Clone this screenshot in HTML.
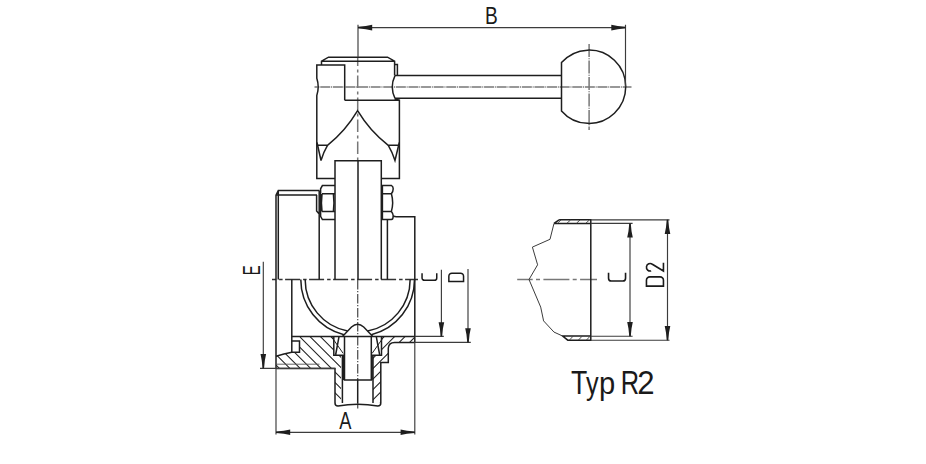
<!DOCTYPE html>
<html><head><meta charset="utf-8"><style>
html,body{margin:0;padding:0;background:#fff;}
svg{display:block;}
text{font-family:"Liberation Sans",sans-serif;}
</style></head><body>
<svg width="926" height="464" viewBox="0 0 926 464">
<defs><clipPath id="cL"><path d="M299.5,336.4 L333.8,336.4 L333.8,355 L341,355 L341,403 L335,403 L335,368.6 L276,368.6 L276,356.2 Q284,353.8 291.8,352.3 L299.5,352.3 Z"/></clipPath><clipPath id="cR"><path d="M381.6,336.4 L414.8,336.4 L414.8,342.4 L394.5,342.4 Q388.8,342.4 388.3,348 L388.3,362.6 L380.8,362.6 L380.8,403 L373,403 L373,355 L381.6,355 Z"/></clipPath></defs>
<rect width="926" height="464" fill="#fff"/>
<g fill="none"><path d="M314.5,87 L631.5,87" stroke="#777" stroke-width="1.5" stroke-dasharray="10 0.8 1 0.8" stroke-dashoffset="6.85"/><path d="M357.7,57.2 L357.7,160.7" stroke="#777" stroke-width="1.5" stroke-dasharray="12.3 3.5 3 3.2" stroke-dashoffset="3.6"/><path d="M589.1,44 L589.1,130" stroke="#777" stroke-width="1.5" stroke-dasharray="13 1.3 1 1.2" stroke-dashoffset="0"/><path d="M272,279.5 L418,279.5" stroke="#333" stroke-width="1.3" stroke-dasharray="15 3 3.5 2.5" stroke-dashoffset="10.9"/><path d="M357.7,279.5 L357.7,380" stroke="#555" stroke-width="1.3" stroke-dasharray="9.4 1.6 1.3 1.7" stroke-dashoffset="13.5"/><path d="M357.7,403.5 L357.7,408.6" stroke="#555" stroke-width="1.3" stroke-dasharray="10 1" stroke-dashoffset="0"/><path d="M517.2,279.6 L597,279.6" stroke="#777" stroke-width="1.5" stroke-dasharray="26 3.3 4 3.4" stroke-dashoffset="10.5"/></g>
<g fill="none" stroke="#222" stroke-width="1.05"><path clip-path="url(#cL)" d="M270,255.00 L345,330.00 M270,265.40 L345,340.40 M270,275.80 L345,350.80 M270,286.20 L345,361.20 M270,296.60 L345,371.60 M270,307.00 L345,382.00 M270,317.40 L345,392.40 M270,327.80 L345,402.80 M270,338.20 L345,413.20 M270,348.60 L345,423.60 M270,359.00 L345,434.00 M270,369.40 L345,444.40 M270,379.80 L345,454.80 M270,390.20 L345,465.20 M270,400.60 L345,475.60"/><path clip-path="url(#cR)" d="M370,330.00 L420,280.00 M370,340.40 L420,290.40 M370,350.80 L420,300.80 M370,361.20 L420,311.20 M370,371.60 L420,321.60 M370,382.00 L420,332.00 M370,392.40 L420,342.40 M370,402.80 L420,352.80 M370,413.20 L420,363.20 M370,423.60 L420,373.60 M370,434.00 L420,384.00 M370,444.40 L420,394.40 M370,454.80 L420,404.80"/></g>
<g fill="none" stroke="#1e1e1e" stroke-width="1.5" stroke-linejoin="miter"><path d="M321.5,65 L321.5,61.2 L328.5,57.2 L387.5,57.2 L394.6,61.2 L394.6,75.5 M321.5,61.2 L394.6,61.2"/><path d="M394.6,64.5 L397.4,64.5 L397.4,75.5"/><path d="M344.7,100.2 L344.7,65 L316.8,65 L316.8,78.3 Q319.6,86.9 316.8,95.5 L316.8,178.6 L335,178.6"/><path d="M381.3,178.6 L399.4,178.6 L399.4,100.2 L344.7,100.2"/><path d="M394.6,99 L399.4,100.2"/><path d="M395,75.6 L561.5,75.6 M395,98.3 L561.5,98.3 M395,75.6 Q389.5,87 395,98.3"/><path d="M561.5,62.6 A36.65,36.65 0 1,1 561.5,110.9 Z"/><path d="M316.8,145.3 L327.5,145.3 Q345.45,131.05 357.6,110.6 Q369.85,131.05 388.3,145.3 L399.3,145.3"/><path d="M317,142.5 L321,160.5 Q323.5,152 327.5,145.3 M399.3,142.5 L395,160.5 Q392.3,152 388.3,145.3"/><path d="M335,279.5 L335,160.7 L381.3,160.7 L381.3,279.5 M358,160.7 L358,279.5"/><path d="M276,368.6 L276,195.1 L278.3,190.4 L319.4,190.4 M276,195.1 L317,195.1 M278.3,190.4 L278.3,279.5"/><path d="M316.6,195.1 L316.6,211 L319.2,214 M319.2,190.4 L319.2,279.5"/><path d="M335,185.6 L322.4,185.6 L320.6,188.8 L320.6,216.4 L322.4,219.6 L335,219.6 M322,193.8 L335,193.8 M322,211.4 L335,211.4 M322,193.8 Q320.9,202.6 322,211.4 M333.4,193.8 Q334.5,202.6 333.4,211.4"/><path d="M381.3,185.6 L391.6,185.6 Q393.2,186.3 393.2,188.8 Q393.2,191.5 391.4,193.8 Q393.9,202.6 391.4,211.4 Q393.2,213.5 393.2,215.8 Q393.2,219.6 391.4,219.6 L381.3,219.6 M391.4,193.8 L381.3,193.8 M391.4,211.4 L381.3,211.4 M382.4,185.8 L382.4,219.4"/><path d="M393.2,215.8 Q394.5,216.7 396.5,216.7 L414.8,216.7 L414.8,342.4 M387.4,219.6 L387.4,279.5"/><path d="M291.8,279.5 L291.8,352.3"/><path d="M300.79999999999995,279.5 A56.85,56.85 0 0,0 344.0,334.69 M305.15,279.5 A52.5,52.5 0 0,0 347.6,331.03"/><path d="M414.5,279.5 A56.85,56.85 0 0,1 371.30,334.69 M410.15,279.5 A52.5,52.5 0 0,1 367.70,331.03"/><path d="M342.5,336.4 L351.5,327 Q357.6,321.5 363.7,327 L372.8,336.4"/><path d="M291.8,336.4 L414.8,336.4"/><path d="M291.8,341.1 L299.5,341.1 L299.5,352.3 L291.8,352.3 Q284,353.8 276,356.2"/><path d="M276,368.6 L335,368.6 L335,403 Q335,406 338,406 Q357.7,402.5 377.8,406 Q380.8,406 380.8,403 L380.8,362.6 L388.3,362.6 L388.3,348 Q388.8,342.4 394.5,342.4 L414.8,342.4"/><path d="M342.4,355 L342.4,403 M373,355 L373,403 M344.5,336.4 L344.5,380 L371.3,380 L371.3,336.4"/><path d="M357.7,380 L357.7,403.5"/><path d="M333.8,336.4 L333.8,355.2 L344.5,355.2 M339,336.6 L335.7,354.5"/><path d="M381.5,336.4 L381.5,355.2 L371.3,355.2 M376.3,336.6 L379.6,354.5"/><path d="M343.4,355.5 L343.4,380 M372.2,355.5 L372.2,380" stroke-width="1.2"/><path d="M559.1,219.8 L590.8,219.8 L590.8,340.2 L567.8,340.2 L562.6,336 L590.8,336 M554,223.4 L590.8,223.4 M554,223.4 L559.1,219.8"/></g>
<g fill="none" stroke="#3c3c3c" stroke-width="1.15"><path d="M358,27.6 L625.5,27.6 M358,24.8 L358,57.2 M625.5,24.7 L625.5,86.8"/><path d="M358.00,26.85 L365.81,26.06 L372.20,24.80 L372.20,30.40 L365.81,29.14 L358.00,28.35 Z" fill="#1e1e1e" stroke="none"/><path d="M625.50,28.35 L617.69,29.14 L611.30,30.40 L611.30,24.80 L617.69,26.06 L625.50,26.85 Z" fill="#1e1e1e" stroke="none"/><path d="M331.4,336.6 L343.2,353.4 M383.9,336.6 L372.1,353.4" stroke-width="1" stroke="#222"/><path d="M276,364.2 L319.5,364.2" stroke="#555" stroke-width="0.9"/><path d="M263.3,261.7 L263.3,368.3 M260,368.4 L335,368.4"/><path d="M262.55,368.30 L261.76,360.49 L260.50,354.10 L266.10,354.10 L264.84,360.49 L264.05,368.30 Z" fill="#1e1e1e" stroke="none"/><path d="M441.4,269.8 L441.4,336.4 M414.8,336.4 L443.8,336.4"/><path d="M440.65,336.40 L439.86,328.59 L438.60,322.20 L444.20,322.20 L442.94,328.59 L442.15,336.40 Z" fill="#1e1e1e" stroke="none"/><path d="M468,269 L468,342.4 M414.8,342.4 L470.8,342.4"/><path d="M467.25,342.40 L466.46,334.59 L465.20,328.20 L470.80,328.20 L469.54,334.59 L468.75,342.40 Z" fill="#1e1e1e" stroke="none"/><path d="M276,368.6 L276,434.5 M414.8,342.4 L414.8,434.5 M276,432.3 L414.8,432.3"/><path d="M276.00,431.55 L283.81,430.76 L290.20,429.50 L290.20,435.10 L283.81,433.84 L276.00,433.05 Z" fill="#1e1e1e" stroke="none"/><path d="M414.80,433.05 L406.99,433.84 L400.60,435.10 L400.60,429.50 L406.99,430.76 L414.80,431.55 Z" fill="#1e1e1e" stroke="none"/><path d="M554,223.4 L550,239.3 L532.4,247.1 L537.6,264.8 L529,279.5 L540.7,307.1 L543.6,320.9 L554,332.1 L562.6,336" stroke-width="1"/><path d="M590.8,219.8 L669.5,219.8 M590.8,223.4 L632.6,223.4 M590.8,336.2 L632.6,336.2 M590.8,340.2 L669.5,340.2"/><path d="M630,223.4 L630,336.2 M667.5,219.8 L667.5,340.2"/><path d="M630.75,223.40 L631.54,231.21 L632.80,237.60 L627.20,237.60 L628.46,231.21 L629.25,223.40 Z" fill="#1e1e1e" stroke="none"/><path d="M629.25,336.20 L628.46,328.39 L627.20,322.00 L632.80,322.00 L631.54,328.39 L630.75,336.20 Z" fill="#1e1e1e" stroke="none"/><path d="M668.25,219.80 L669.04,227.61 L670.30,234.00 L664.70,234.00 L665.96,227.61 L666.75,219.80 Z" fill="#1e1e1e" stroke="none"/><path d="M666.75,340.20 L665.96,332.39 L664.70,326.00 L670.30,326.00 L669.04,332.39 L668.25,340.20 Z" fill="#1e1e1e" stroke="none"/><path d="M557.5,223.2 L561,220 M567.0,223.2 L570.5,220 M576.5,223.2 L580,220 M585.9,223.2 L589.4,220 M569.5,340 L573,336.3 M578.5,340 L582,336.3 M586.5,340 L590,336.3" stroke-width="0.9"/></g>
<g><text transform="translate(485.03,23.80) scale(0.1916,0.2311)" font-size="100" fill="#1a1a1a">B</text><text transform="translate(339.16,428.90) scale(0.1825,0.2326)" font-size="100" fill="#1a1a1a">A</text><text transform="translate(260.00,274.10) rotate(-90) translate(-1.23,0) scale(0.6120,1)" font-size="24.42" fill="#1a1a1a">E</text><path transform="translate(437.5,281.1) rotate(-90)" d="M7.90,-15.45 L3.15,-15.45 A2.4,2.4 0 0 0 0.75,-13.05 L0.75,-3.15 A2.4,2.4 0 0 0 3.15,-0.75 L7.90,-0.75" fill="none" stroke="#1a1a1a" stroke-width="1.5"/><path transform="translate(464.3,282.2) rotate(-90)" d="M0.75,-0.75 L0.75,-15.45 L6.05,-15.45 A3.0,3.0 0 0 1 9.05,-12.45 L9.05,-3.75 A3.0,3.0 0 0 1 6.05,-0.75 Z" fill="none" stroke="#1a1a1a" stroke-width="1.5"/><path transform="translate(626.3,281.7) rotate(-90)" d="M9.00,-17.75 L3.55,-17.75 A2.8,2.8 0 0 0 0.75,-14.95 L0.75,-3.55 A2.8,2.8 0 0 0 3.55,-0.75 L9.00,-0.75" fill="none" stroke="#1a1a1a" stroke-width="1.6"/><path transform="translate(664.2,286.9) rotate(-90)" d="M0.75,-0.75 L0.75,-17.75 L6.65,-17.75 A3.4,3.4 0 0 1 10.05,-14.35 L10.05,-4.15 A3.4,3.4 0 0 1 6.65,-0.75 Z" fill="none" stroke="#1a1a1a" stroke-width="1.6"/><path transform="translate(664.2,271.8) rotate(-90)" d="M0.88,-13.03 A3.75,3.75 0 1 1 7.57,-11.85 L0.75,-0.75 L9.00,-0.75" fill="none" stroke="#1a1a1a" stroke-width="1.6"/><text transform="translate(570.90,393.90) scale(0.2671,0.3329)" font-size="100" fill="#1a1a1a">T</text><text transform="translate(586.04,393.76) scale(0.2522,0.3153)" font-size="100" fill="#1a1a1a">y</text><text transform="translate(598.92,393.81) scale(0.2913,0.3127)" font-size="100" fill="#1a1a1a">p</text><text transform="translate(620.81,393.90) scale(0.2543,0.3329)" font-size="100" fill="#1a1a1a">R</text><text transform="translate(637.33,393.90) scale(0.3117,0.3294)" font-size="100" fill="#1a1a1a">2</text></g>
</svg>
</body></html>
